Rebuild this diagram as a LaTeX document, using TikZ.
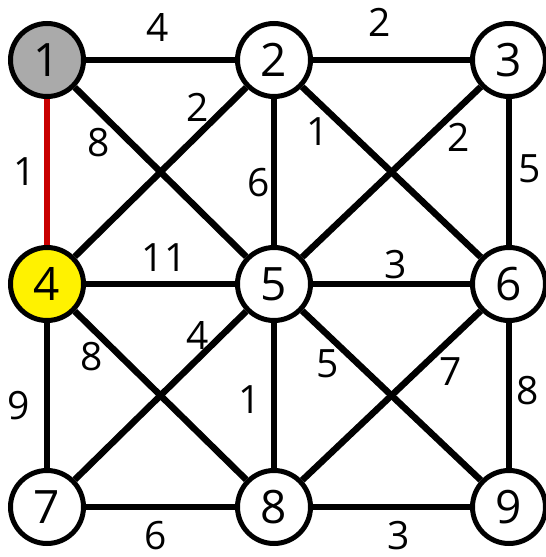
\documentclass[tikz,border=0pt]{standalone}
\usepackage{fontspec}
\setmainfont{Open Sans}
\definecolor{nodegray}{RGB}{170,170,170}
\definecolor{edgered}{RGB}{200,0,0}
\begin{document}
\begin{tikzpicture}[x=1pt,y=-1pt,
  vtx/.style={circle,draw=black,line width=5pt,fill=white,minimum size=73pt,inner sep=0pt,font=\fontsize{46}{46}\selectfont},
  edg/.style={line width=6.5pt,black},
  redg/.style={line width=6.5pt,edgered},
  wlab/.style={font=\fontsize{39}{39}\selectfont,inner sep=0pt}]
\useasboundingbox (0,0) rectangle (546,557);
\node[vtx,fill=nodegray] (n1) at (47,60) {1};
\node[vtx] (n2) at (274,60) {2};
\node[vtx] (n3) at (509,60) {3};
\node[vtx,fill=yellow] (n4) at (47,284) {4};
\node[vtx] (n5) at (274,284) {5};
\node[vtx] (n6) at (509,284) {6};
\node[vtx] (n7) at (47,507) {7};
\node[vtx] (n8) at (274,507) {8};
\node[vtx] (n9) at (509,507) {9};
\draw[edg] (n1) -- (n2);
\draw[edg] (n2) -- (n3);
\draw[redg] (n1) -- (n4);
\draw[edg] (n1) -- (n5);
\draw[edg] (n2) -- (n4);
\draw[edg] (n2) -- (n5);
\draw[edg] (n2) -- (n6);
\draw[edg] (n3) -- (n5);
\draw[edg] (n3) -- (n6);
\draw[edg] (n4) -- (n5);
\draw[edg] (n5) -- (n6);
\draw[edg] (n4) -- (n8);
\draw[edg] (n5) -- (n7);
\draw[edg] (n4) -- (n7);
\draw[edg] (n5) -- (n8);
\draw[edg] (n5) -- (n9);
\draw[edg] (n6) -- (n8);
\draw[edg] (n6) -- (n9);
\draw[edg] (n7) -- (n8);
\draw[edg] (n8) -- (n9);
\node[wlab] (w12) at (158,28) {4};
\node[wlab] (w23) at (380,22) {2};
\node[wlab] (w14) at (25,172) {1};
\node[wlab] (w15) at (99,143) {8};
\node[wlab] (w24) at (198,107) {2};
\node[wlab] (w25) at (259,183) {6};
\node[wlab] (w26) at (318,132) {1};
\node[wlab] (w35) at (459,137) {2};
\node[wlab] (w36) at (530,169) {5};
\node[wlab] (w45) at (164,258) {11};
\node[wlab] (w56) at (396,265) {3};
\node[wlab] (w48) at (92,357) {8};
\node[wlab] (w57) at (198,335) {4};
\node[wlab] (w47) at (19,406) {9};
\node[wlab] (w58) at (250,400) {1};
\node[wlab] (w59) at (328,364) {5};
\node[wlab] (w68) at (451,372) {7};
\node[wlab] (w69) at (528,391) {8};
\node[wlab] (w78) at (156,536) {6};
\node[wlab] (w89) at (399,536) {3};
\end{tikzpicture}
\end{document}
